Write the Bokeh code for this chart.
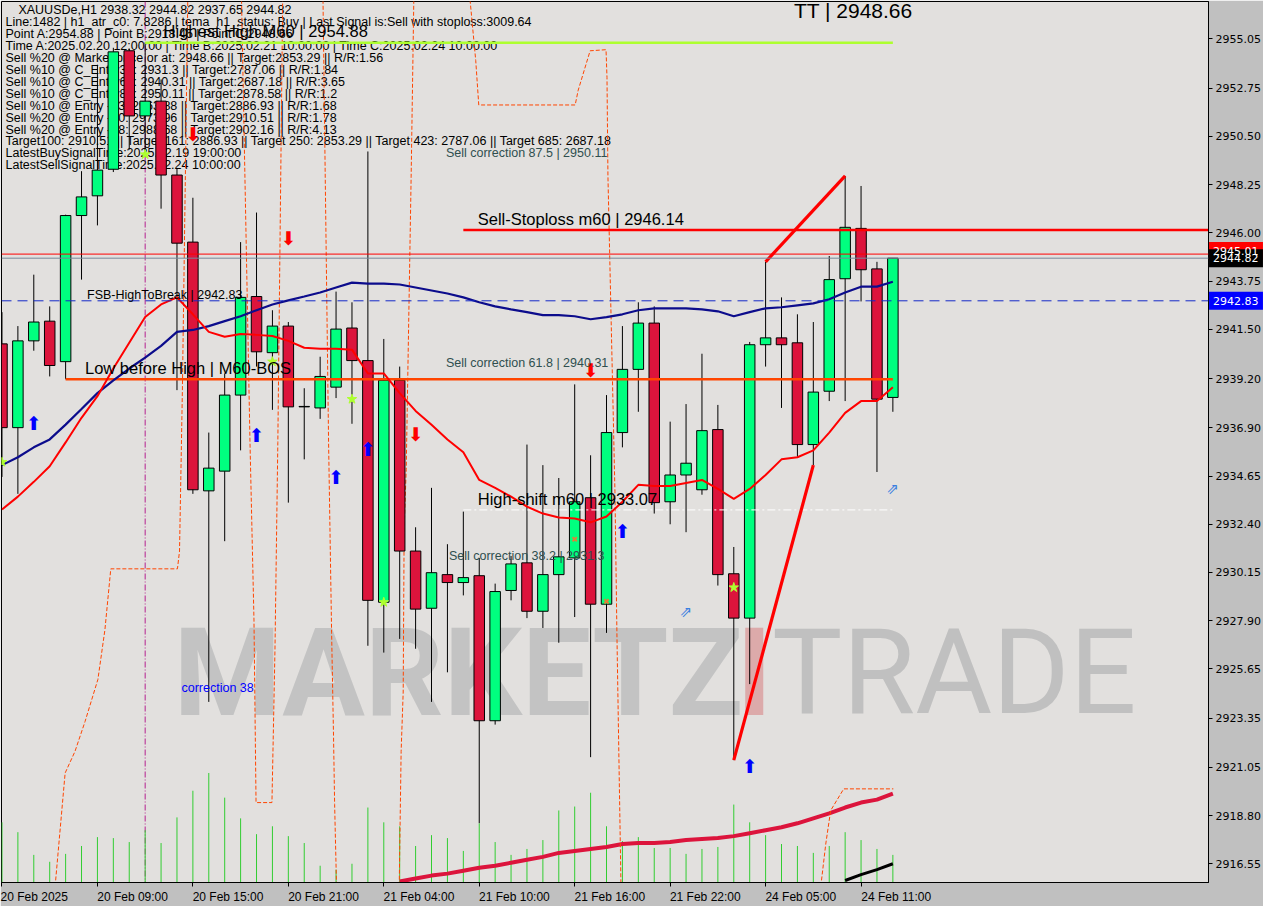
from bokeh.plotting import figure
from bokeh.layouts import row
from bokeh.models import Range1d, FixedTicker, PrintfTickFormatter, Label, Span
from bokeh.core.properties import value
from bokeh.embed import file_html
from bokeh.resources import INLINE

# ---------------- data ----------------
bars = list(range(57))
opens = [2940.82, 2936.91, 2940.96, 2941.88, 2939.99, 2946.81, 2947.73, 2948.97, 2954.50, 2951.46,
         2952.15, 2948.70, 2945.57, 2933.96, 2934.88, 2938.43, 2943.03, 2940.41, 2941.65, 2937.88,
         2937.83, 2938.80, 2941.56, 2940.04, 2928.76, 2939.12, 2931.15, 2928.48, 2930.05, 2929.68,
         2930.00, 2923.23, 2929.31, 2930.60, 2928.34, 2930.05, 2930.83, 2933.64, 2928.67, 2936.68,
         2939.63, 2941.79, 2933.45, 2934.70, 2934.01, 2936.82, 2930.09, 2928.02, 2940.78, 2941.10,
         2940.87, 2936.12, 2938.61, 2943.86, 2946.21, 2944.32, 2938.32]
highs = [2942.30, 2941.65, 2944.05, 2942.57, 2946.85, 2948.88, 2953.85, 2954.64, 2954.60, 2954.88,
         2953.16, 2949.02, 2947.64, 2936.68, 2939.44, 2945.57, 2946.95, 2942.39, 2941.84, 2938.75,
         2940.22, 2943.26, 2942.76, 2949.80, 2941.05, 2939.76, 2932.26, 2934.10, 2931.47, 2932.99,
         2930.83, 2929.63, 2930.92, 2936.12, 2935.16, 2934.56, 2938.93, 2935.62, 2938.43, 2941.65,
         2942.76, 2942.57, 2937.19, 2938.01, 2940.36, 2937.97, 2931.34, 2940.91, 2944.65, 2942.99,
         2942.20, 2941.84, 2944.92, 2948.66, 2948.19, 2944.65, 2944.82]
lows = [2934.61, 2933.82, 2940.50, 2939.30, 2939.17, 2943.82, 2946.35, 2948.84, 2949.89, 2949.57,
        2947.13, 2938.66, 2933.82, 2924.11, 2931.61, 2935.85, 2939.76, 2937.74, 2933.41, 2935.43,
        2937.32, 2938.29, 2937.09, 2926.73, 2926.41, 2927.05, 2926.59, 2924.11, 2925.49, 2929.08,
        2918.45, 2923.05, 2928.85, 2928.02, 2927.56, 2926.87, 2928.07, 2921.53, 2927.33, 2935.99,
        2937.65, 2932.90, 2932.40, 2932.03, 2933.78, 2929.54, 2921.39, 2924.94, 2939.76, 2937.83,
        2935.53, 2935.16, 2938.15, 2938.15, 2942.80, 2934.84, 2937.65]
closes = [2936.91, 2940.96, 2941.84, 2939.81, 2946.81, 2947.68, 2948.93, 2954.45, 2951.46, 2952.15,
          2948.70, 2945.52, 2934.01, 2935.02, 2938.43, 2942.99, 2940.45, 2941.65, 2937.88, 2937.90,
          2939.30, 2941.51, 2940.04, 2928.85, 2939.12, 2931.15, 2928.44, 2930.14, 2929.68, 2929.91,
          2923.23, 2929.26, 2930.55, 2928.34, 2930.05, 2930.88, 2933.45, 2928.67, 2936.68, 2939.63,
          2941.79, 2933.41, 2934.70, 2935.25, 2936.77, 2930.05, 2928.02, 2940.78, 2941.10, 2940.78,
          2936.12, 2938.57, 2943.82, 2946.26, 2944.28, 2938.24, 2944.82]
volume = [3050, 2550, 1400, 1050, 1450, 1850, 2300, 2250, 2050, 2650, 2000, 3300, 4650, 5550, 4300,
          3250, 2450, 2850, 2350, 2000, 850, 650, 950, 3800, 3050, 2850, 1850, 2400, 2250, 1600,
          3000, 2050, 1400, 1700, 2150, 3650, 3850, 4550, 2850, 2100, 2300, 1750, 1750, 1450, 1700,
          1800, 3950, 3050, 2400, 1950, 1850, 1500, 1850, 2550, 2150, 1700, 1400]
ma_slow = [2935.16, 2935.53, 2935.99, 2936.36, 2937.05, 2937.78, 2938.52, 2939.12, 2939.67, 2940.18,
           2940.73, 2941.38, 2941.47, 2941.65, 2941.88, 2942.11, 2942.39, 2942.66, 2942.85, 2943.03,
           2943.22, 2943.45, 2943.68, 2943.63, 2943.63, 2943.59, 2943.45, 2943.31, 2943.17, 2942.99,
           2942.76, 2942.57, 2942.43, 2942.30, 2942.16, 2942.16, 2942.11, 2941.97, 2942.07, 2942.20,
           2942.39, 2942.48, 2942.48, 2942.48, 2942.43, 2942.34, 2942.11, 2942.30, 2942.48, 2942.53,
           2942.62, 2942.71, 2942.90, 2943.22, 2943.49, 2943.49, 2943.72]
ma_fast = [2933.09, 2933.69, 2934.38, 2935.11, 2936.22, 2937.37, 2938.38, 2939.67, 2940.87, 2942.07,
           2942.66, 2942.99, 2942.20, 2941.38, 2941.15, 2941.28, 2941.24, 2941.19, 2940.96, 2940.64,
           2940.59, 2940.59, 2940.55, 2939.44, 2939.44, 2938.52, 2937.69, 2937.05, 2936.36, 2935.76,
           2934.47, 2934.10, 2933.69, 2933.22, 2932.90, 2932.72, 2932.67, 2932.49, 2932.76, 2933.45,
           2934.24, 2934.19, 2934.19, 2934.33, 2934.47, 2934.05, 2933.59, 2934.05, 2934.70, 2935.43,
           2935.53, 2935.85, 2936.68, 2937.60, 2938.15, 2938.15, 2938.80]
vol_ma_bars = list(range(25, 57))
vol_ma = [50, 200, 350, 450, 600, 750, 850, 1000, 1150, 1300, 1500, 1600, 1700, 1800, 1950, 2000,
          2000, 2050, 2150, 2200, 2250, 2350, 2500, 2650, 2800, 3000, 3250, 3500, 3800, 4050, 4200, 4500]
vol_ma2_bars = [53, 54, 55, 56]
vol_ma2 = [100, 400, 650, 950]

# stepped channel lines (bar position, price)
band1_x = [3.34, 3.97, 4.59, 5.22, 6.03, 6.47, 6.84, 11.03, 11.16, 11.34, 11.47, 11.70]
band1_y = [2915.5, 2920.79, 2921.80, 2923.19, 2925.16, 2927.47, 2930.32, 2930.32, 2931.15, 2938.66, 2945.57, 2958.0]
band2_x = [15.03, 15.59, 15.84, 15.97, 16.97, 17.16, 17.34, 17.66]
band2_y = [2958.0, 2936.22, 2927.93, 2919.41, 2919.41, 2926.55, 2936.22, 2958.0]
band3_x = [20.16, 20.53, 20.72, 20.84, 20.91, 21.03]
band3_y = [2958.0, 2936.22, 2927.33, 2922.54, 2919.32, 2915.5]
band4_x = [25.91, 25.72, 25.41, 25.28, 25.22, 25.09, 24.97]
band4_y = [2958.0, 2948.65, 2934.97, 2932.21, 2924.57, 2921.80, 2915.5]
band5_x = [29.28, 29.78, 29.97, 36.03, 36.22, 36.97, 37.97, 38.03, 38.09, 38.53, 38.66, 38.78, 38.91]
band5_y = [2958.0, 2954.04, 2951.97, 2951.97, 2952.66, 2954.50, 2954.55, 2953.26, 2948.65, 2933.92, 2927.01, 2921.48, 2915.5]
band6_x = [51.47, 51.78, 52.09, 52.91, 56.03]
band6_y = [2915.5, 2917.47, 2919.04, 2920.05, 2920.05]

trend_x0 = [46, 48]
trend_y0 = [2921.39, 2944.65]
trend_x1 = [51, 53]
trend_y1 = [2935.16, 2948.66]

highest_high = 2954.88
sell_stoploss = 2946.14
fsb_high = 2942.83
low_before_high = 2939.17
high_shift = 2933.07
red_level = 2945.01
bid_price = 2944.82

tag_prices = [2945.15, 2944.82, 2942.83]
tag_texts = ["2945.01", "2944.82", "2942.83"]
tag_colors = ["#ff0000", "black", "#0000ff"]

buy_bars = [2, 16, 21, 23, 39, 47]
buy_prices = [2937.14, 2936.59, 2934.61, 2935.90, 2932.07, 2921.11]
sell_bars = [12, 18, 26, 37]
sell_prices = [2950.63, 2945.75, 2936.63, 2939.58]
hollow_bars = [43, 56]
hollow_prices = [2928.30, 2934.05]
star_bars = [0, 9, 17, 22, 24, 46]
star_prices = [2935.30, 2949.66, 2939.99, 2938.24, 2928.76, 2929.45]
cross_bars = [36, 38]
cross_prices = [2931.70, 2928.80]

tick_bars = [0, 6, 12, 18, 24, 30, 36, 42, 48, 54]
tick_labels = ["20 Feb 2025", "20 Feb 09:00", "20 Feb 15:00", "20 Feb 21:00", "21 Feb 04:00",
               "21 Feb 10:00", "21 Feb 16:00", "21 Feb 22:00", "24 Feb 05:00", "24 Feb 11:00"]
price_ticks = [2955.05, 2952.75, 2950.50, 2948.25, 2946.00, 2943.75, 2941.50, 2939.20, 2936.90,
               2934.65, 2932.40, 2930.15, 2927.90, 2925.65, 2923.35, 2921.05, 2918.80, 2916.55]

header_lines = [
    "XAUUSDe,H1  2938.32 2944.82 2937.65 2944.82",
    "Line:1482 | h1_atr_c0: 7.8286 | tema_h1_status: Buy | Last Signal is:Sell with stoploss:3009.64",
    "Point A:2954.88 | Point B:2918.45 | Point C:2948.66",
    "Time A:2025.02.20 12:00:00 | Time B:2025.02.21 10:00:00 | Time C:2025.02.24 10:00:00",
    "Sell %20 @ Market price or at: 2948.66 || Target:2853.29 || R/R:1.56",
    "Sell %10 @ C_Entry38: 2931.3 || Target:2787.06 || R/R:1.84",
    "Sell %10 @ C_Entry61: 2940.31 || Target:2687.18 || R/R:3.65",
    "Sell %10 @ C_Entry88: 2950.11 || Target:2878.58 || R/R:1.2",
    "Sell %10 @ Entry -23: 2963.88 || Target:2886.93 || R/R:1.68",
    "Sell %20 @ Entry -50: 2973.96 || Target:2910.51 || R/R:1.78",
    "Sell %20 @ Entry -88: 2988.68 || Target:2902.16 || R/R:4.13",
    "Target100: 2910.51 || Target 161: 2886.93 || Target 250: 2853.29 || Target 423: 2787.06 || Target 685: 2687.18",
    "LatestBuySignalTime:2025.02.19 19:00:00",
    "LatestSellSignalTime:2025.02.24 10:00:00",
]

# ---------------- figure ----------------
X0, X1 = -0.03, 75.84
Y0, Y1 = 2915.68, 2956.80
VOL_MAX = 44650
FW, FH = 1207, 881
AXIS_W = 55
BOTTOM = 21

p = figure(frame_width=FW, frame_height=FH, x_range=Range1d(X0, X1), y_range=Range1d(Y0, Y1),
           y_axis_location="right", toolbar_location=None, output_backend="svg", tools="",
           min_border_left=1, min_border_top=1, min_border_right=AXIS_W, min_border_bottom=BOTTOM)
p.extra_y_ranges = {"vol": Range1d(0, VOL_MAX)}
p.grid.visible = False
p.background_fill_color = "#e2e0de"
p.border_fill_color = "#c0c0c0"
p.outline_line_color = "black"
p.outline_line_width = 1

ax = p.yaxis[0]
ax.ticker = FixedTicker(ticks=price_ticks)
ax.formatter = PrintfTickFormatter(format="%.2f")
ax.major_label_text_font = "DejaVu Sans"
ax.major_label_text_font_size = "11px"
ax.major_label_text_color = "black"
ax.major_tick_in = 0
ax.major_tick_out = 4
ax.minor_tick_line_color = None
ax.axis_line_color = "black"
ax.major_label_standoff = 3

# x labels start at their tick (MT4 style): label centres are shifted right by half a label width
label_pos = [round(b + len(t) * 5.9 / 2 / 16, 2) for b, t in zip(tick_bars, tick_labels)]
bx = p.xaxis[0]
bx.ticker = FixedTicker(ticks=label_pos, minor_ticks=tick_bars)
bx.major_label_overrides = {pos: t for pos, t in zip(label_pos, tick_labels)}
bx.major_label_text_font = "Liberation Sans"
bx.major_label_text_font_size = "12px"
bx.major_label_text_color = "black"
bx.major_tick_in = 0
bx.major_tick_out = 0
bx.minor_tick_in = 0
bx.minor_tick_out = 4
bx.minor_tick_line_color = "black"
bx.axis_line_color = "black"
bx.major_label_standoff = 3


def rx(px):
    return X0 + (px - 3) / 1214 * (X1 - X0)


def ry(py):
    return Y1 - (py - 3) / 893 * (Y1 - Y0)


def add_text(txt, px, py, size, color="black", font="Liberation Sans", style="normal",
             level="annotation", alpha=1.0, align="left"):
    p.add_layout(Label(x=rx(px), y=ry(py), text=txt, text_font=font, text_font_size=f"{size}px",
                       text_color=color, text_font_style=style, text_baseline="middle",
                       text_align=align, level=level, text_alpha=alpha))


# watermark
add_text("MARKETZ", 176, 684, 123, color="#c3c3c3", font="Roboto", style="bold", level="underlay")
add_text("I", 742, 684, 123, color="#dcaaaa", font="Roboto", style="bold", level="underlay")
add_text("TRADE", 778, 684, 118, color="#c0c0c0", font="Roboto", level="underlay")

# volume
p.segment(x0=bars, y0=[0] * len(bars), x1=bars, y1=volume, y_range_name="vol",
          line_color="#32cd32", line_width=1)
p.line(vol_ma_bars, vol_ma, y_range_name="vol", line_color="#dc143c", line_width=4)
p.line(vol_ma2_bars, vol_ma2, y_range_name="vol", line_color="black", line_width=3)

# stepped dashed channel lines
for bxs, bys in [(band1_x, band1_y), (band2_x, band2_y), (band3_x, band3_y),
                 (band4_x, band4_y), (band5_x, band5_y), (band6_x, band6_y)]:
    p.line(bxs, bys, line_color="#ff4500", line_width=1, line_dash="4 2")

p.add_layout(Span(location=9, dimension="height", line_color="#b5208f", line_width=1,
                  line_dash="6 2 1 2", level="underlay"))

# header text
add_text(header_lines[0], 20, 12, 12.5, level="underlay")
for i, ln in enumerate(header_lines[1:], start=1):
    add_text(ln, 7, 12 + 12.08 * i, 12.5, level="underlay")

# candles
up = [c >= o for o, c in zip(opens, closes)]
ub = [b for b, u in zip(bars, up) if u]
db = [b for b, u in zip(bars, up) if not u]
p.segment(x0=bars, y0=lows, x1=bars, y1=highs, line_color="black", line_width=1)
p.vbar(x=ub, width=0.66, bottom=[opens[b] for b in ub], top=[closes[b] for b in ub],
       fill_color="#00ff7f", line_color="black", line_width=1)
p.vbar(x=db, width=0.66, bottom=[closes[b] for b in db], top=[opens[b] for b in db],
       fill_color="#dc143c", line_color="black", line_width=1)

# levels
p.add_layout(Span(location=red_level, dimension="width", line_color="#ff0000", line_width=1))
p.add_layout(Span(location=bid_price, dimension="width", line_color="#778899", line_width=1))
p.add_layout(Span(location=fsb_high, dimension="width", line_color="#1428c8", line_width=1,
                  line_dash="10 6"))
p.segment(x0=[9], y0=[highest_high], x1=[56], y1=[highest_high], line_color="#adff2f", line_width=2.5)
p.segment(x0=[29], y0=[sell_stoploss], x1=[X1], y1=[sell_stoploss], line_color="#ff0000", line_width=2.5)
p.segment(x0=[4], y0=[low_before_high], x1=[56], y1=[low_before_high], line_color="#ff4500", line_width=2.5)
p.segment(x0=[29], y0=[high_shift], x1=[56], y1=[high_shift], line_color="white", line_width=1,
          line_dash="8 3 2 3")

# moving averages
p.line(bars, ma_slow, line_color="#0c0c8c", line_width=2.2)
p.line(bars, ma_fast, line_color="#ff0000", line_width=2)

# trend lines
p.segment(x0=trend_x0, y0=trend_y0, x1=trend_x1, y1=trend_y1, line_color="#ff0000", line_width=3.2)

# signals
p.text(x=buy_bars, y=buy_prices, text=["\u2b06"] * len(buy_bars), text_font=value("DejaVu Sans"),
       text_font_size="19px", text_color="#0000ff", text_align="center", text_baseline="middle")
p.text(x=sell_bars, y=sell_prices, text=["\u2b07"] * len(sell_bars), text_font=value("DejaVu Sans"),
       text_font_size="19px", text_color="#ff0000", text_align="center", text_baseline="middle")
p.text(x=hollow_bars, y=hollow_prices, text=["\u21d7"] * len(hollow_bars), text_font=value("DejaVu Sans"),
       text_font_size="15px", text_color="#3a7fe0", text_align="center", text_baseline="middle")
p.scatter(star_bars, star_prices, marker="star", size=10, fill_color="#adff2f", line_color="#adff2f")
p.scatter(cross_bars, cross_prices, marker="x", size=6, line_color="#e0803a", line_width=2)

# chart objects text
add_text("TT | 2948.66", 800, 12, 21)
add_text("Highest High  M60 | 2954.88", 166, 33, 16.5)
add_text("Sell correction 87.5 | 2950.11", 450, 157, 12.5, color="#2f4f4f")
add_text("Sell-Stoploss m60 | 2946.14", 482, 223, 16.5)
add_text("FSB-HighToBreak | 2942.83", 89, 300, 12.5)
add_text("Sell correction 61.8 | 2940.31", 450, 369, 12.5, color="#2f4f4f")
add_text("Low before High | M60-BOS", 87, 374, 16.5)
add_text("High-shift m60 | 2933.07", 482, 507, 16.5)
add_text("Sell correction 38.2 | 2931.3", 453, 565, 12.5, color="#2f4f4f")
add_text("correction 38", 184, 699, 12.5, color="#0000ff")

# ---------------- price tags: a transparent strip laid over the price axis ----------------
tags = figure(frame_width=AXIS_W, frame_height=FH, x_range=Range1d(0, 1), y_range=p.y_range,
              x_axis_location=None, y_axis_location=None, toolbar_location=None,
              output_backend="svg", tools="", min_border_left=0, min_border_right=0,
              min_border_top=1, min_border_bottom=BOTTOM,
              styles={"margin-left": f"-{AXIS_W}px"})
tags.grid.visible = False
tags.background_fill_alpha = 0
tags.border_fill_alpha = 0
tags.outline_line_color = None
half = 9 / FH * (Y1 - Y0)
tags.quad(left=[0.01] * 3, right=[0.99] * 3, bottom=[t - half for t in tag_prices],
          top=[t + half for t in tag_prices], fill_color=tag_colors, line_color=None)
tags.text(x=[0.08] * 3, y=tag_prices, text=tag_texts, text_font=value("DejaVu Sans"),
          text_font_size="11px", text_color="white", text_baseline="middle", text_align="left")

layout = row(p, tags, spacing=0)
open("out.html", "w").write(file_html(layout, INLINE))
